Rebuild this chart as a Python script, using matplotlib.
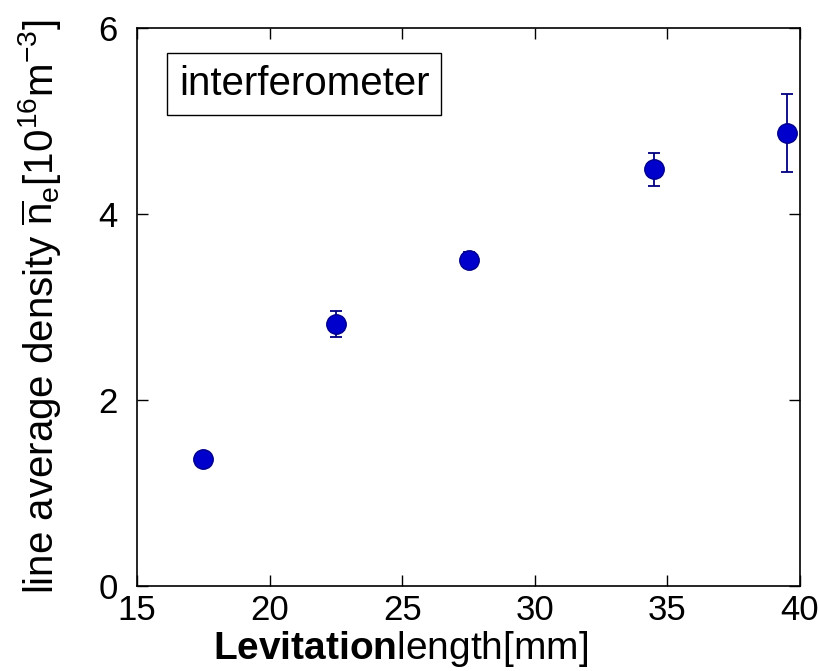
import matplotlib
matplotlib.use('Agg')
import matplotlib.pyplot as plt

plt.rcParams['font.family'] = ['Liberation Sans', 'DejaVu Sans']
plt.rcParams['mathtext.fontset'] = 'custom'
plt.rcParams['mathtext.rm'] = 'Liberation Sans'
plt.rcParams['mathtext.bf'] = 'Liberation Sans:bold'
plt.rcParams['mathtext.it'] = 'Liberation Sans:italic'

# Messwerte (Levitationslaenge vs. Liniendichte)
levitation_mm = [17.5, 22.5, 27.5, 34.5, 39.5]
density = [1.37, 2.82, 3.51, 4.48, 4.87]
density_err = [0.04, 0.14, 0.08, 0.175, 0.42]

x_ticks = [15, 20, 25, 30, 35, 40]
y_ticks = [0, 2, 4, 6]

fig = plt.figure(figsize=(8.19, 6.71), dpi=100)
ax = fig.add_axes([0.1673, 0.1267, 0.8095, 0.8316])

ax.errorbar(levitation_mm, density, yerr=density_err, fmt='o',
            color='#0000CC', markeredgecolor='#00008B', markersize=14,
            ecolor='#000080', elinewidth=1.3, capsize=4, capthick=1.3)

ax.set_xlim(15, 40)
ax.set_ylim(0, 6)
ax.set_xticks(x_ticks)
ax.set_yticks(y_ticks)
ax.tick_params(direction='in', length=8, width=1, labelsize=25,
               top=True, right=True)
ax.tick_params(axis='y', pad=14)
ax.tick_params(axis='x', pad=6)
for s in ax.spines.values():
    s.set_linewidth(1.2)

ax.text(0.063, 0.9, 'interferometer', transform=ax.transAxes,
        fontsize=29, ha='left', va='center',
        bbox=dict(boxstyle='square,pad=0.3', fc='white', ec='black', lw=1))

# Achsenbeschriftungen
fig.text(401 / 819, 2 / 671, r'$\mathbf{Levitation}$length[mm]',
         fontsize=28, ha='center', va='bottom')
fig.text(40 / 819, 1 - 307 / 671,
         r'line average density $\overline{\mathrm{n}}_\mathrm{e}$[10$^{16}$m$^{-3}$]',
         fontsize=29, rotation=90, ha='center', va='center')

fig.savefig('out.png', dpi=100)
